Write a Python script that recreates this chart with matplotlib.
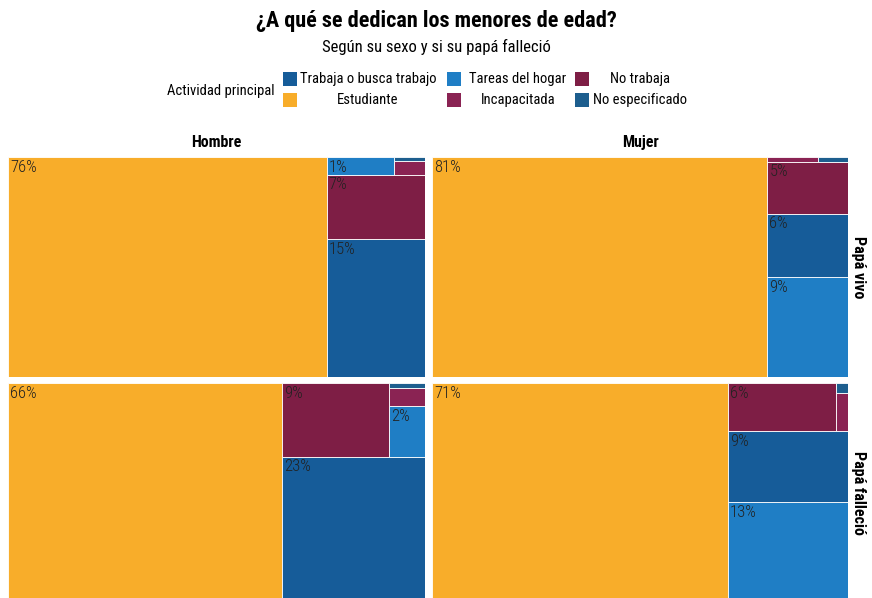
import numpy as np
import matplotlib.pyplot as plt
from matplotlib.patches import Rectangle

plt.rcParams['font.family'] = ['Roboto Condensed', 'DejaVu Sans']
plt.rcParams['font.stretch'] = 'condensed'

categorias = ['Trabaja o busca trabajo', 'Estudiante', 'Tareas del hogar',
              'Incapacitada', 'No trabaja', 'No especificado']
colores = ['#165C99', '#F8AD2A', '#1F7EC5', '#8A2353', '#7E1E45', '#1D5E8E']

# porcentajes por panel, mismo orden que categorias
hombre_vivo = [14.8, 76.4, 1.3, 0.45, 6.9, 0.15]
mujer_vivo = [5.6, 80.6, 8.8, 0.25, 4.6, 0.15]
hombre_fallecio = [22.9, 65.9, 2.0, 0.7, 8.6, 0.2]
mujer_fallecio = [9.3, 70.9, 13.2, 0.5, 5.7, 0.13]

columnas = ['Hombre', 'Mujer']
filas = ['Papá vivo', 'Papá falleció']


def worst(row, short):
    s = sum(row)
    return max(max(short**2 * r / s**2, s**2 / (short**2 * r)) for r in row)


def squarify(values):
    # layout en el cuadrado unidad, luego se estira al panel
    total = sum(values)
    areas = [v / total for v in values]
    order = sorted(range(len(values)), key=lambda i: -areas[i])
    x, y, w, h = 0.0, 0.0, 1.0, 1.0
    rects = {}
    while order:
        short = min(w, h)
        row = [order[0]]
        k = 1
        while k < len(order) and worst([areas[i] for i in row + [order[k]]], short) <= worst([areas[i] for i in row], short):
            row.append(order[k])
            k += 1
        s = sum(areas[i] for i in row)
        if w >= h:
            cw = s / h
            yy = y
            for i in row:
                rh = areas[i] / cw
                rects[i] = (x, yy, cw, rh)
                yy += rh
            x += cw
            w -= cw
        else:
            rh = s / w
            xx = x
            for i in row:
                rw = areas[i] / rh
                rects[i] = (xx, y, rw, rh)
                xx += rw
            y += rh
            h -= rh
        order = order[k:]
    return rects


fig = plt.figure(figsize=(8.72, 5.98), dpi=100)

paneles = [[hombre_vivo, mujer_vivo], [hombre_fallecio, mujer_fallecio]]
px_x = [(8, 417), (432, 416)]
px_y = [157, 383]
ph = 220

for r in range(2):
    for c in range(2):
        x0, pw = px_x[c]
        ax = fig.add_axes([x0 / 872, 1 - (px_y[r] + ph) / 598, pw / 872, ph / 598])
        vals = paneles[r][c]
        rects = squarify(vals)
        for i, (rx, ry, rw, rh) in rects.items():
            ax.add_patch(Rectangle((rx, ry), rw, rh, facecolor=colores[i],
                                   edgecolor='white', linewidth=0.6))
            if vals[i] >= 1:
                ax.annotate(f'{round(vals[i])}%', (rx, ry + rh), xytext=(1.5, -2),
                            textcoords='offset points', ha='left', va='top',
                            fontsize=12, fontweight='light', color='#222222')
        ax.set_xlim(0, 1)
        ax.set_ylim(0, 1)
        ax.axis('off')

for c in range(2):
    x0, pw = px_x[c]
    fig.text((x0 + pw / 2) / 872, 1 - 143 / 598, columnas[c], ha='center', va='center',
             fontsize=11.5, fontweight='bold')
for r in range(2):
    fig.text(858 / 872, 1 - (px_y[r] + ph / 2) / 598, filas[r], ha='center', va='center',
             rotation=-90, fontsize=11.5, fontweight='bold')

fig.text(436 / 872, 1 - 21 / 598, '¿A qué se dedican los menores de edad?', ha='center',
         va='center', fontsize=16, fontweight='bold')
fig.text(436 / 872, 1 - 47 / 598, 'Según su sexo y si su papá falleció', ha='center',
         va='center', fontsize=12)

# leyenda
fig.text(275 / 872, 1 - 91 / 598, 'Actividad principal', ha='right', va='center', fontsize=10.5)
sw_x = [283, 447, 575]
txt_x = [368, 518, 640]
row_y = [79, 100]
for k, cat in enumerate(categorias):
    c, r = k // 2, k % 2
    fig.patches.append(Rectangle(((sw_x[c]) / 872, 1 - (row_y[r] + 7) / 598), 14 / 872, 14 / 598,
                                 transform=fig.transFigure, facecolor=colores[k], edgecolor='none'))
    fig.text(txt_x[c] / 872, 1 - row_y[r] / 598, cat, ha='center', va='center', fontsize=10.5)

fig.savefig('out.png', dpi=100)
